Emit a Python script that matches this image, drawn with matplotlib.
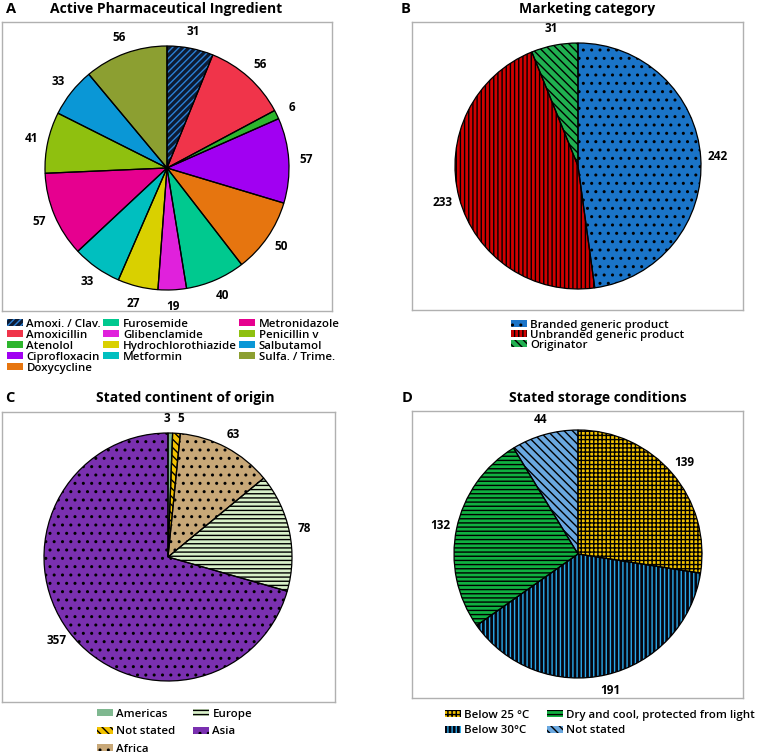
import matplotlib
matplotlib.use("Agg")
import matplotlib.pyplot as plt

plt.rcParams["font.family"] = ["Open Sans", "DejaVu Sans"]
plt.rcParams["hatch.linewidth"] = 1.0

W, H = 757, 754

# A: active pharmaceutical ingredient
api_labels = ["Amoxi. / Clav.", "Amoxicillin", "Atenolol", "Ciprofloxacin", "Doxycycline",
              "Furosemide", "Glibenclamide", "Hydrochlorothiazide", "Metformin",
              "Metronidazole", "Penicillin v", "Salbutamol", "Sulfa. / Trime."]
api_counts = [31, 56, 6, 57, 50, 40, 19, 27, 33, 57, 41, 33, 56]
api_colors = ["#0d1b33", "#f0344a", "#2db52d", "#a100f2", "#e6750f", "#00c98f", "#e021dc",
              "#d9d000", "#00bfbf", "#e6008f", "#8fc00f", "#0a97d6", "#8c9f31"]
api_hatch = ["/////", None, None, None, None, None, None, None, None, None, None, None, None]
api_hcol = ["#2a7fd4"] + ["black"] * 12

# B: marketing category
mkt_labels = ["Branded generic product", "Unbranded generic product", "Originator"]
mkt_counts = [242, 233, 31]
mkt_colors = ["#1a74c8", "#d00000", "#20b050"]
mkt_hatch = ["..", "||||", "\\\\\\\\"]
mkt_hcol = ["black", "black", "black"]

# C: continent of origin
cont_labels = ["Americas", "Not stated", "Africa", "Europe", "Asia"]
cont_counts = [3, 5, 63, 78, 357]
cont_colors = ["#7fb890", "#f2c200", "#c8a878", "#d8f0c8", "#7a30b0"]
cont_hatch = [None, "\\\\\\\\", "..", "----", ".."]
cont_hcol = ["black"] * 5

# D: storage conditions
stor_labels = ["Below 25 \u00b0C", "Below 30\u00b0C", "Dry and cool, protected from light", "Not stated"]
stor_counts = [139, 191, 132, 44]
stor_colors = ["#f2c200", "#050510", "#10b040", "#6aa8e0"]
stor_hatch = ["++++", "||||", "----", "\\\\\\\\"]
stor_hcol = ["black", "#2aa8e8", "black", "black"]

fig = plt.figure(figsize=(W / 100, H / 100), dpi=100)


def panel(box, center, r, counts, colors, hatches, hcols, letter, title, title_x, title_y,
          letter_xy, ldist):
    x0, y0, x1, y1 = box
    ax = fig.add_axes([x0 / W, 1 - y1 / H, (x1 - x0) / W, (y1 - y0) / H])
    c = (center[0] - x0, y1 - center[1])
    wedges, texts = ax.pie(counts, colors=colors, startangle=90, counterclock=False,
                           radius=r, center=c, labels=[str(v) for v in counts],
                           labeldistance=ldist, frame=True,
                           wedgeprops=dict(linewidth=0),
                           textprops=dict(fontsize=8.5, fontweight="bold"))
    for t in texts:
        t.set_ha("center")
        t.set_va("center")
    for w, h, hc in zip(wedges, hatches, hcols):
        w.set_edgecolor(hc)
        if h:
            w.set_hatch(h)
    ax.pie(counts, startangle=90, counterclock=False, radius=r, center=c, frame=True,
           wedgeprops=dict(fill=False, edgecolor="black", linewidth=0.9))
    ax.set_aspect("auto")
    ax.set_xlim(0, x1 - x0)
    ax.set_ylim(0, y1 - y0)
    ax.set_xticks([])
    ax.set_yticks([])
    for s in ax.spines.values():
        s.set_color("#b0b0b0")
        s.set_linewidth(1.0)
    fig.text(title_x / W, 1 - title_y / H, title, ha="center", va="center",
             fontsize=10, fontweight="bold")
    fig.text(letter_xy[0] / W, 1 - letter_xy[1] / H, letter, ha="center", va="center",
             fontsize=10.5, fontweight="bold")
    return wedges, texts


wa, _ = panel((2, 22, 332, 311), (167, 168), 122, api_counts, api_colors, api_hatch, api_hcol,
              "A", "Active Pharmaceutical Ingredient", 166, 9, (11, 9), 1.14)
wb, _ = panel((412, 22, 743, 310), (578, 166), 123, mkt_counts, mkt_colors, mkt_hatch, mkt_hcol,
              "B", "Marketing category", 587, 9, (406, 9), 1.14)
wc, tc = panel((2, 412, 335, 702), (168, 557), 124, cont_counts, cont_colors, cont_hatch,
               cont_hcol, "C", "Stated continent of origin", 185, 398, (10, 398), 1.12)
wd, _ = panel((412, 411, 743, 698), (578, 554), 124, stor_counts, stor_colors, stor_hatch,
              stor_hcol, "D", "Stated storage conditions", 598, 398, (407, 398), 1.13)
# the two thin slices at the top of C: keep their labels apart
tc[0].set_ha("right")
tc[1].set_ha("left")

common = dict(loc="upper left", frameon=False, handlelength=1.4,
              handleheight=0.55, handletextpad=0.3, borderpad=0, borderaxespad=0,
              prop=dict(size=8.25, weight="semibold"))
fig.legend(wa, api_labels, bbox_to_anchor=(7 / W, 1 - 319 / H), ncol=3,
           labelspacing=-0.01, columnspacing=0.2, **common)
fig.legend(wb, mkt_labels, bbox_to_anchor=(511 / W, 1 - 320 / H), ncol=1,
           labelspacing=-0.1, **common)
fig.legend(wc, cont_labels, bbox_to_anchor=(97 / W, 1 - 709 / H), ncol=2,
           labelspacing=0.55, columnspacing=1.5, **common)
fig.legend(wd, stor_labels, bbox_to_anchor=(445 / W, 1 - 710 / H), ncol=2,
           labelspacing=0.38, columnspacing=1.5, **common)

fig.savefig("out.png", dpi=100)
